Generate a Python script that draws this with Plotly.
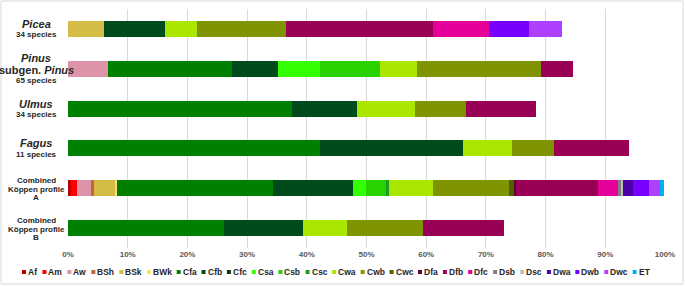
import plotly.graph_objects as go

# ---------------- data ----------------
categories = ["Picea", "Pinus", "Ulmus", "Fagus", "Combined A", "Combined B"]

codes = ["Af", "Am", "Aw", "BSh", "BSk", "BWk", "Cfa", "Cfb", "Cfc", "Csa", "Csb", "Csc",
         "Cwa", "Cwb", "Cwc", "Dfa", "Dfb", "Dfc", "Dsb", "Dsc", "Dwa", "Dwb", "Dwc", "ET"]

code_colors = ["#c00000", "#ff0000", "#dd94a8", "#c8643c", "#d4bc46", "#f5e26e", "#008000",
               "#004b1c", "#003a10", "#33ff00", "#2ad100", "#1e9e1e", "#aae600", "#7f9400",
               "#4f6200", "#660038", "#990055", "#e6009a", "#808080", "#c0c0c0", "#4b00a8",
               "#7700ff", "#b040ff", "#00b0f0"]

picea = {"BSk": 6.0, "Cfb": 10.2, "Cwa": 5.4, "Cwb": 14.9, "Dfb": 24.6, "Dfc": 9.5,
         "Dwb": 6.6, "Dwc": 5.6}
pinus = {"Aw": 6.7, "Cfa": 20.7, "Cfb": 7.7, "Csa": 7.1, "Csb": 10.0, "Cwa": 6.3,
         "Cwb": 20.8, "Dfb": 5.3}
ulmus = {"Cfa": 37.6, "Cfb": 10.8, "Cwa": 9.8, "Cwb": 8.4, "Dfb": 11.8}
fagus = {"Cfa": 42.2, "Cfb": 24.0, "Cwa": 8.1, "Cwb": 7.1, "Dfb": 12.5}
combined_a = {"Af": 0.5, "Am": 1.0, "Aw": 2.3, "BSh": 0.6, "BSk": 3.4, "BWk": 0.4,
              "Cfa": 26.2, "Cfb": 13.3, "Csa": 2.2, "Csb": 3.4, "Csc": 0.4, "Cwa": 7.4,
              "Cwb": 12.7, "Cwc": 0.9, "Dfa": 0.4, "Dfb": 13.7, "Dfc": 3.3, "Dsb": 0.6,
              "Dsc": 0.3, "Dwa": 1.6, "Dwb": 2.8, "Dwc": 1.8, "ET": 0.7}
combined_b = {"Cfa": 26.2, "Cfb": 13.1, "Cwa": 7.4, "Cwb": 12.8, "Dfb": 13.6}

series = [picea, pinus, ulmus, fagus, combined_a, combined_b]

tick_vals = [0, 10, 20, 30, 40, 50, 60, 70, 80, 90, 100]
tick_text = ["0%", "10%", "20%", "30%", "40%", "50%", "60%", "70%", "80%", "90%", "100%"]

# label lines for each category: (text, size, italic)
labels = {
    "Picea": [("Picea", 11, True), ("34 species", 8, False)],
    "Pinus": [("Pinus", 11, True), ("subgen. <i>Pinus</i>", 11, False), ("65 species", 8, False)],
    "Ulmus": [("Ulmus", 11, True), ("34 species", 8, False)],
    "Fagus": [("Fagus", 11, True), ("11 species", 8, False)],
    "Combined A": [("Combined", 8, False), ("Köppen profile", 8, False), ("A", 8, False)],
    "Combined B": [("Combined", 8, False), ("Köppen profile", 8, False), ("B", 8, False)],
}
label_shifts = {2: [5, -6], 3: [11, -1, -12]}
combined_shifts = [8, -1, -9]

# ---------------- layout geometry ----------------
W, H = 685, 286
ML, MR, MT, MB = 68, 20, 9, 38
PW = W - ML - MR
PH = H - MT - MB


def px_x(px):
    return (px - ML) / PW


def px_y(py):
    return (H - MB - py) / PH


FONT = "Liberation Sans, Arial, sans-serif"

fig = go.Figure()
for code, color in zip(codes, code_colors):
    vals = [s.get(code, 0) for s in series]
    fig.add_trace(go.Bar(
        y=categories, x=vals, name=code, orientation="h",
        marker=dict(color=color, line=dict(width=0)),
        showlegend=False,
    ))

annotations = []
for cat in categories:
    lines = labels[cat]
    if cat.startswith("Combined"):
        shifts = combined_shifts
    else:
        shifts = label_shifts[len(lines)]
    for (txt, size, ital), sh in zip(lines, shifts):
        t = f"<i>{txt}</i>" if ital else txt
        annotations.append(dict(
            x=px_x(36), xref="paper", y=cat, yref="y", yshift=sh,
            text=f"<b>{t}</b>", showarrow=False, xanchor="center", yanchor="middle",
            font=dict(family=FONT, size=size, color="#262626"), borderpad=0,
        ))

# manual one-row legend
char_w = {"A": 722, "B": 722, "C": 722, "D": 722, "E": 667, "T": 611, "S": 667, "W": 944,
          "f": 333, "m": 889, "w": 778, "h": 611, "k": 556, "a": 556, "b": 611, "c": 556,
          "s": 556}
shapes = []
lx = 24
ly = 272
for code, color in zip(codes, code_colors):
    shapes.append(dict(type="rect", xref="paper", yref="paper",
                       x0=px_x(lx - 2), x1=px_x(lx + 2), y0=px_y(ly + 2), y1=px_y(ly - 2),
                       fillcolor=color, line=dict(width=0)))
    annotations.append(dict(
        x=px_x(lx + 3), xref="paper", y=px_y(ly), yref="paper",
        text=f"<b>{code}</b>", showarrow=False, xanchor="left", yanchor="middle",
        font=dict(family=FONT, size=8.5, color="#262626"), borderpad=0,
    ))
    tw = sum(char_w.get(c, 600) for c in code) * 8 / 1000
    lx += 12 + tw

# outer border
shapes.append(dict(type="rect", xref="paper", yref="paper",
                   x0=px_x(1), x1=px_x(W - 2), y0=px_y(H - 2), y1=px_y(1),
                   line=dict(color="#d9d9d9", width=1), fillcolor="rgba(0,0,0,0)", layer="below"))

fig.update_layout(
    barmode="stack",
    bargap=0.6,
    width=W, height=H,
    margin=dict(l=ML, r=MR, t=MT, b=MB),
    paper_bgcolor="white", plot_bgcolor="white",
    font=dict(family=FONT),
    xaxis=dict(range=[0, 100], tickvals=tick_vals, ticktext=tick_text,
               showgrid=True, gridcolor="#d9d9d9", gridwidth=1, zeroline=False,
               showline=False, ticks="",
               tickfont=dict(family=FONT, size=8, color="#595959", weight="bold")),
    yaxis=dict(autorange="reversed", showticklabels=False, showgrid=False,
               zeroline=False, showline=False, ticks=""),
    annotations=annotations,
    shapes=shapes,
)

fig.write_html("out.html", config={"displayModeBar": False},
               post_script="document.body.style.margin='0';document.body.style.overflow='hidden';")
